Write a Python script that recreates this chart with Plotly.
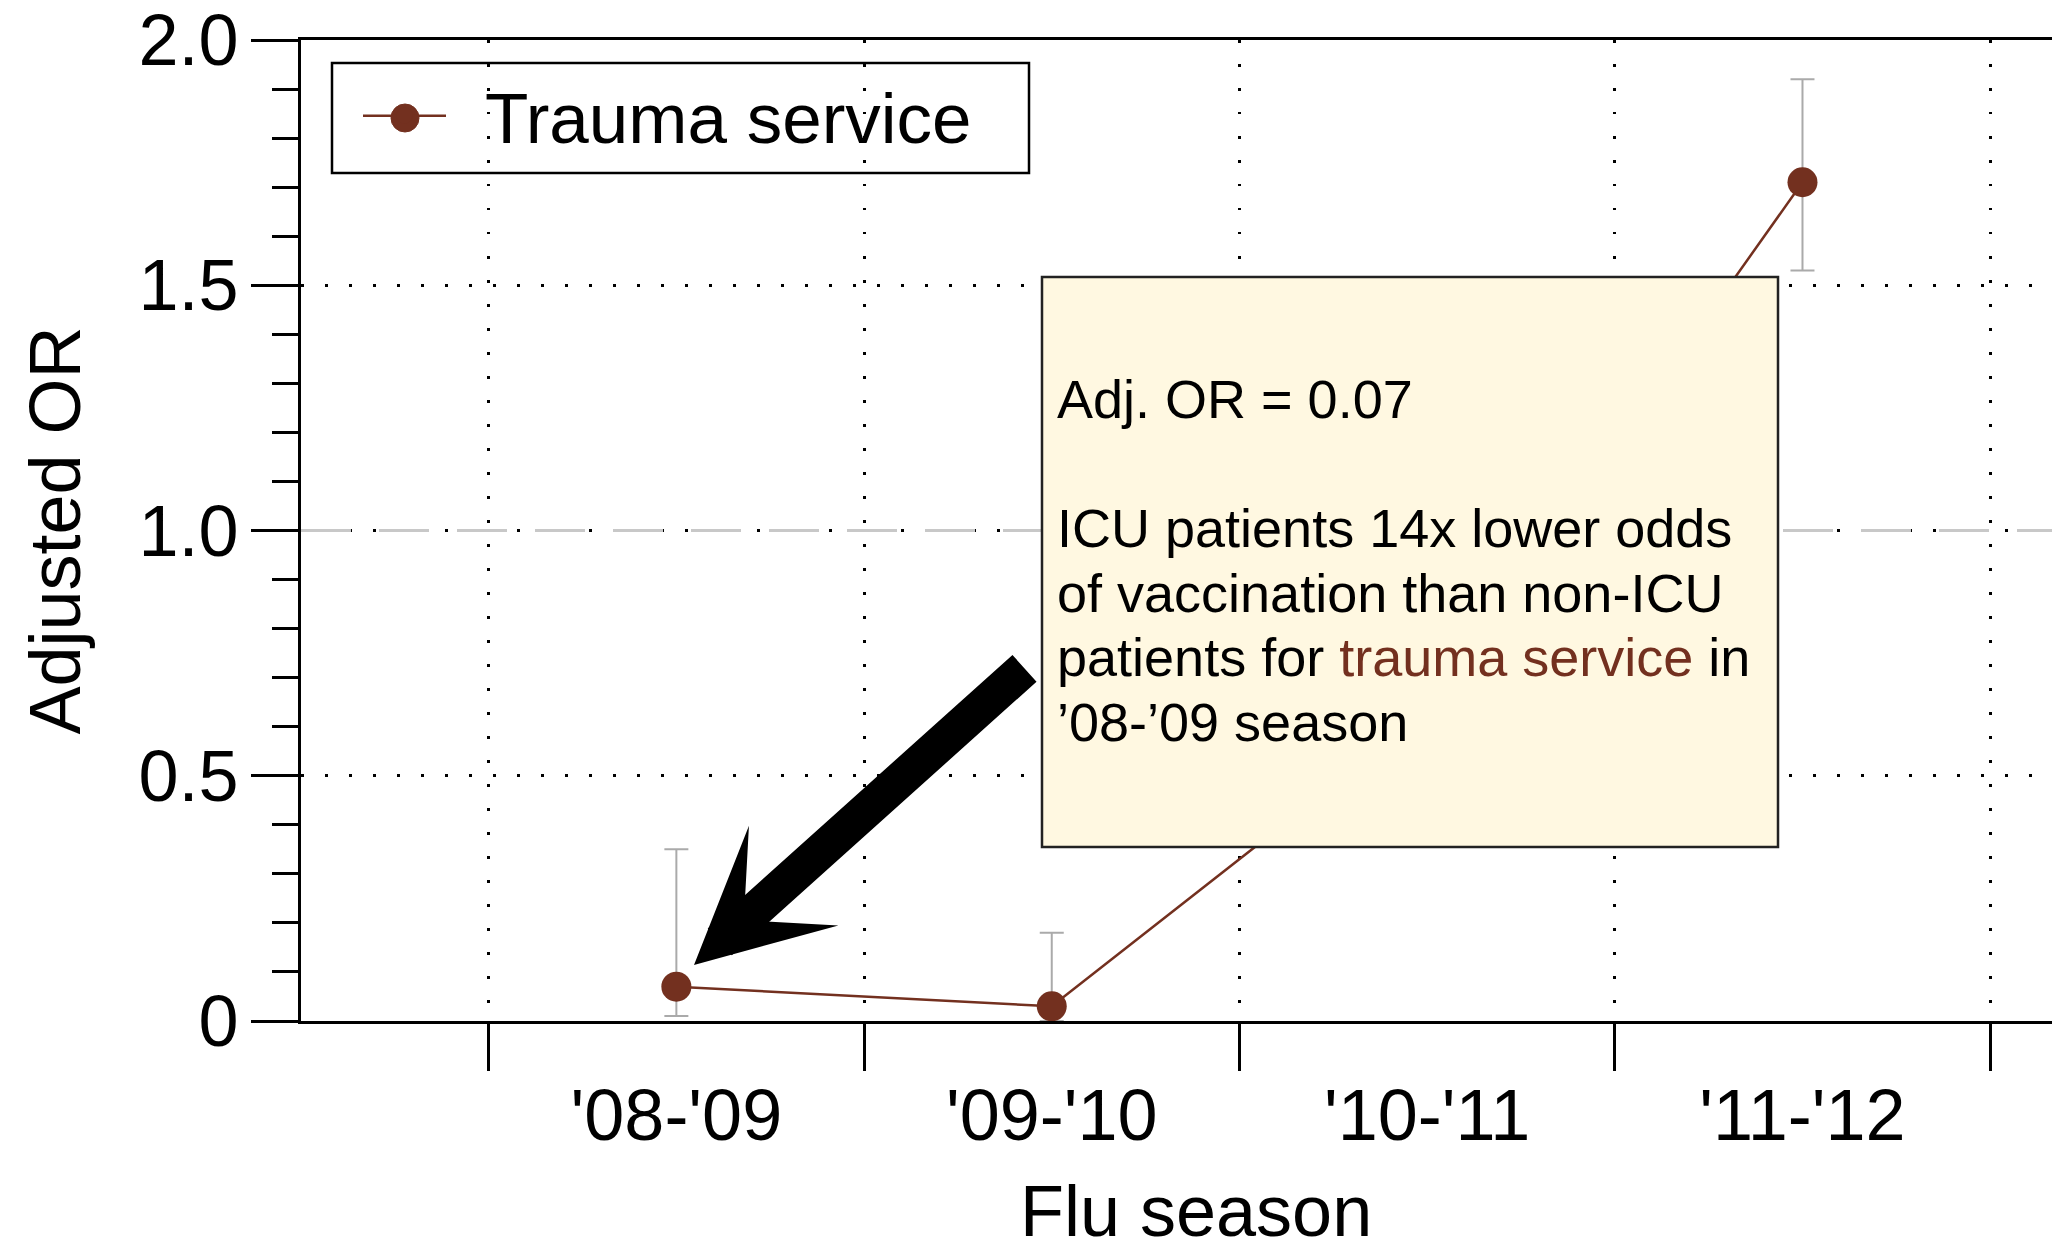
import plotly.graph_objects as go

# ---- data ----
seasons = ["'08-'09", "'09-'10", "'10-'11", "'11-'12"]
adj_or = [0.07, 0.03, 0.63, 1.71]
ci_low = [0.01, 0.0, 0.42, 1.53]
ci_high = [0.35, 0.18, 0.88, 1.92]
series_name = "Trauma service"
y_tickvals = [0, 0.5, 1.0, 1.5, 2.0]
y_ticktext = ["0", "0.5", "1.0", "1.5", "2.0"]
note_lines = [
    "Adj. OR = 0.07",
    "",
    "ICU patients 14x lower odds",
    "of vaccination than non-ICU",
    "patients for <span style='color:#73301f'>trauma service</span> in",
    "\u201908-\u201909 season",
]

COLOR = "#73301f"
FONT = "Liberation Sans, Arial, Helvetica, sans-serif"

# the page body adds an 8px margin; size the figure so it fills the window exactly
OFF = 8
W, H = 2060 - OFF, 1253 - OFF
ML, MR, MT = 301 - OFF, 0, 40 - OFF
MB = H - (1021 - OFF)
PW, PH = W - ML - MR, H - MT - MB

def px_x(x):  # window pixel -> paper fraction
    return (x - OFF - ML) / PW

def px_y(y):
    return (H - MB - (y - OFF)) / PH

xpos = [i + 0.5 for i in range(len(seasons))]

fig = go.Figure()
fig.add_trace(go.Scatter(
    x=xpos, y=adj_or, mode="lines+markers", name="\u00a0\u2009" + series_name,
    line=dict(color=COLOR, width=2.5),
    marker=dict(color=COLOR, size=30),
    error_y=dict(type="data", symmetric=False,
                 array=[h - v for h, v in zip(ci_high, adj_or)],
                 arrayminus=[v - l for v, l in zip(adj_or, ci_low)],
                 color="#aaaaaa", thickness=2, width=12),
    cliponaxis=False,
))

dots = "2.5px,21.5px"
fig.update_xaxes(
    range=[-0.5, 4.186], automargin=False,
    tickvals=xpos, ticktext=seasons,
    ticks="outside", ticklen=30, tickcolor="rgba(0,0,0,0)", tickwidth=2,
    ticklabelstandoff=0, ticklabeloverflow="allow",
    tickfont=dict(size=72, family=FONT, color="black"),
    showgrid=False, zeroline=False,
    showline=True, linecolor="black", linewidth=3, mirror=True,
    minor=dict(tick0=0, dtick=1, ticks="outside", ticklen=47, tickwidth=2.5,
               tickcolor="black", showgrid=True, gridcolor="black",
               gridwidth=2.5, griddash=dots),
)
fig.update_yaxes(
    range=[0, 2.0], automargin=False,
    tickvals=y_tickvals, ticktext=y_ticktext,
    ticks="outside", ticklen=47, tickwidth=2.5, tickcolor="black",
    ticklabelstandoff=-2, ticklabeloverflow="allow",
    tickfont=dict(size=72, family=FONT, color="black"),
    showgrid=True, gridcolor="black", gridwidth=2.5, griddash=dots,
    zeroline=False,
    showline=True, linecolor="black", linewidth=3, mirror=False,
    minor=dict(dtick=0.1, ticks="outside", ticklen=26, tickwidth=2.5,
               tickcolor="black", showgrid=False),
    title=dict(text="Adjusted OR", font=dict(size=72, family=FONT, color="black"), standoff=35),
)

# x-axis title
fig.add_annotation(xref="paper", yref="paper", x=px_x(1196), y=px_y(1253),
                   xanchor="center", yanchor="bottom", showarrow=False,
                   text="Flu season", font=dict(size=72, family=FONT, color="black"))

# reference line at OR = 1
fig.add_shape(type="line", xref="paper", yref="y", x0=0, x1=1, y0=1, y1=1,
              line=dict(color="#c8c8c8", width=3, dash="50px,28px"), layer="above")

# legend frame and full-size legend marker
fig.add_shape(type="rect", xref="paper", yref="paper",
              x0=px_x(332), x1=px_x(1029), y0=px_y(173), y1=px_y(63),
              line=dict(color="black", width=2.5), fillcolor="rgba(0,0,0,0)", layer="above")
fig.add_shape(type="circle", xref="paper", yref="paper",
              x0=px_x(391), x1=px_x(419), y0=px_y(132), y1=px_y(104),
              line=dict(color=COLOR, width=1), fillcolor=COLOR, layer="above")

# note box
fig.add_shape(type="rect", xref="paper", yref="paper",
              x0=px_x(1042), x1=px_x(1778), y0=px_y(847), y1=px_y(277),
              line=dict(color="#222222", width=2.5), fillcolor="#fff8e1", layer="above")

base0, step = 416, 64.6
for i, line in enumerate(note_lines):
    if not line:
        continue
    fig.add_annotation(xref="paper", yref="paper", x=px_x(1055), y=px_y(base0 + step * i - 17),
                       xanchor="left", yanchor="middle", showarrow=False, text=line,
                       font=dict(size=54, family=FONT, color="black"))

# big arrow
fig.add_annotation(xref="paper", yref="paper", x=px_x(694), y=px_y(965),
                   axref="pixel", ayref="pixel", ax=332, ay=-298,
                   text="", showarrow=True, arrowhead=3, arrowsize=0.62,
                   arrowwidth=36, arrowcolor="black")

fig.update_layout(
    width=W, height=H,
    margin=dict(l=ML, r=MR, t=MT, b=MB, autoexpand=False),
    plot_bgcolor="white", paper_bgcolor="white",
    font=dict(family=FONT, color="black"),
    showlegend=True,
    legend=dict(x=px_x(358), y=px_y(116), xanchor="left", yanchor="middle",
                bgcolor="rgba(0,0,0,0)", borderwidth=0, itemwidth=83,
                font=dict(size=71, family=FONT, color="black")),
)

fig.write_html("out.html")
